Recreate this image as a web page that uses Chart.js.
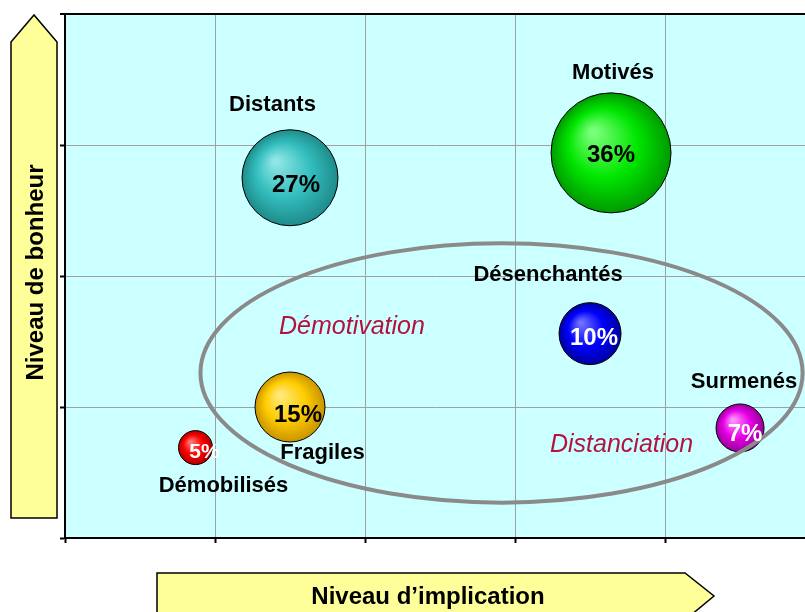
<!DOCTYPE html>
<html>
<head>
<meta charset="utf-8">
<script src="https://cdn.jsdelivr.net/npm/chart.js@4"></script>
<style>
  html, body { margin: 0; padding: 0; background: #ffffff; }
  #c { display: block; }
</style>
</head>
<body>
<canvas id="c" width="805" height="612"></canvas>
<script>
// ---- Data ----
const segments   = ["Démobilisés", "Fragiles", "Distants", "Motivés", "Désenchantés", "Surmenés"];
const implication = [0.87, 1.5, 1.5, 3.64, 3.5, 4.5];     // x
const bonheur     = [0.69, 1.0, 2.75, 2.94, 1.56, 0.84];  // y
const bubbleSize  = [17, 35, 48, 60, 31, 24];             // bubble radius
const shares      = ["5%", "15%", "27%", "36%", "10%", "7%"];
const zoneLabels  = ["Démotivation", "Distanciation"];
const xTitle = "Niveau d’implication";
const yTitle = "Niveau de bonheur";

// ---- Styles / layout ----
const bubbleColors = [
  ["#ff7a7a", "#ff0000", "#b00000"],
  ["#ffe97a", "#ffcc00", "#c89400"],
  ["#8fe6e6", "#33bdbd", "#1f8b8b"],
  ["#7aff7a", "#00e600", "#009a00"],
  ["#7070ff", "#0000ff", "#0000a0"],
  ["#ff90ff", "#e600e6", "#990099"]
];
const shareColors = ["#ffffff", "#000000", "#000000", "#000000", "#ffffff", "#ffffff"];
const shareFont   = [21, 24, 24, 24, 24, 24];
const shareOffset = [[9, 10.5], [8, 15], [6, 14], [0, 9], [4, 11.5], [5, 13]];
const nameOffset  = [[28, 44], [32.5, 52], [-17.5, -67], [2, -74], [-42, -53], [4, -40]];
const zonePos     = [[1.913, 1.555], [3.71, 0.66]];
const ellipseSpec = { cx: 2.91, cy: 1.26, rx: 2.007, ry: 0.99 };

const points = implication.map((x, i) => ({ x: x, y: bonheur[i], r: bubbleSize[i] }));

const bgPlugin = {
  id: 'bg',
  beforeDraw(chart) {
    const { ctx, chartArea: a } = chart;
    ctx.save();
    ctx.fillStyle = '#ccffff';
    ctx.fillRect(a.left, a.top, a.right - a.left, a.bottom - a.top);
    ctx.restore();
  }
};

const overlayPlugin = {
  id: 'overlay',
  afterDatasetsDraw(chart) {
    const { ctx } = chart;
    const xs = chart.scales.x, ys = chart.scales.y;
    // ellipse
    const ecx = xs.getPixelForValue(ellipseSpec.cx), ecy = ys.getPixelForValue(ellipseSpec.cy);
    const erx = xs.getPixelForValue(ellipseSpec.cx + ellipseSpec.rx) - ecx;
    const ery = ecy - ys.getPixelForValue(ellipseSpec.cy + ellipseSpec.ry);
    ctx.save();
    ctx.beginPath();
    ctx.ellipse(ecx, ecy, erx, ery, 0, 0, Math.PI * 2);
    ctx.lineWidth = 4;
    ctx.strokeStyle = '#8a8a8a';
    ctx.stroke();
    ctx.restore();

    ctx.save();
    ctx.textAlign = 'center';
    ctx.textBaseline = 'alphabetic';
    points.forEach((p, i) => {
      const px = xs.getPixelForValue(p.x), py = ys.getPixelForValue(p.y);
      ctx.font = 'bold 22px "Liberation Sans", Arial, sans-serif';
      ctx.fillStyle = '#000000';
      ctx.fillText(segments[i], px + nameOffset[i][0], py + nameOffset[i][1]);
      ctx.font = 'bold ' + shareFont[i] + 'px "Liberation Sans", Arial, sans-serif';
      ctx.fillStyle = shareColors[i];
      ctx.fillText(shares[i], px + shareOffset[i][0], py + shareOffset[i][1]);
    });
    ctx.font = 'italic 25px "Liberation Sans", Arial, sans-serif';
    ctx.fillStyle = '#b3123f';
    zoneLabels.forEach((t, i) => {
      ctx.fillText(t, xs.getPixelForValue(zonePos[i][0]), ys.getPixelForValue(zonePos[i][1]));
    });
    ctx.restore();
  },
  afterDraw(chart) {
    const { ctx } = chart;
    ctx.save();
    ctx.fillStyle = '#ffff99';
    ctx.strokeStyle = '#000000';
    ctx.lineWidth = 1.5;
    ctx.lineJoin = 'miter';
    // vertical arrow
    ctx.beginPath();
    ctx.moveTo(11, 518); ctx.lineTo(11, 42); ctx.lineTo(34, 15); ctx.lineTo(57, 42); ctx.lineTo(57, 518);
    ctx.closePath(); ctx.fill(); ctx.stroke();
    // horizontal arrow
    ctx.beginPath();
    ctx.moveTo(157, 620); ctx.lineTo(157, 573); ctx.lineTo(685, 573); ctx.lineTo(714, 596); ctx.lineTo(685, 620);
    ctx.closePath(); ctx.fill(); ctx.stroke();
    ctx.fillStyle = '#000000';
    ctx.font = 'bold 24px "Liberation Sans", Arial, sans-serif';
    ctx.textAlign = 'center';
    ctx.textBaseline = 'alphabetic';
    ctx.fillText(xTitle, 428, 604);
    ctx.translate(43, 272.5);
    ctx.rotate(-Math.PI / 2);
    ctx.fillText(yTitle, 0, 0);
    ctx.restore();
  }
};

new Chart(document.getElementById('c'), {
  type: 'bubble',
  data: {
    datasets: [{
      data: points,
      borderColor: '#000000',
      borderWidth: 1,
      hoverBorderWidth: 1,
      clip: false,
      backgroundColor: (c) => {
        const chart = c.chart;
        const i = c.dataIndex;
        if (c.type !== 'data' || !chart.chartArea || !chart.scales.x) return bubbleColors[i % 6][1];
        const p = c.raw;
        const cx = chart.scales.x.getPixelForValue(p.x), cy = chart.scales.y.getPixelForValue(p.y), r = p.r;
        const g = chart.ctx.createRadialGradient(cx - r * 0.3, cy - r * 0.35, r * 0.05, cx, cy, r);
        g.addColorStop(0, bubbleColors[i][0]);
        g.addColorStop(0.55, bubbleColors[i][1]);
        g.addColorStop(1, bubbleColors[i][2]);
        return g;
      }
    }]
  },
  options: {
    responsive: false,
    animation: false,
    devicePixelRatio: 1,
    layout: { autoPadding: false, padding: { left: 60, top: 14, right: 0, bottom: 69 } },
    plugins: { legend: { display: false }, tooltip: { enabled: false } },
    scales: {
      x: {
        type: 'linear', min: 0, max: 4.933,
        ticks: { display: false, stepSize: 1, includeBounds: false },
        grid: { color: '#a0a0a0', lineWidth: 1, drawTicks: true, tickLength: 5, tickColor: '#000000', tickWidth: 2 },
        border: { color: '#000000', width: 2 }
      },
      y: {
        type: 'linear', min: 0, max: 4,
        ticks: { display: false, stepSize: 1 },
        grid: {
          color: (c) => (c.tick && c.tick.value === 4) ? '#000000' : '#a0a0a0',
          lineWidth: (c) => (c.tick && c.tick.value === 4) ? 2 : 1,
          drawTicks: true, tickLength: 5, tickColor: '#000000', tickWidth: 2
        },
        border: { color: '#000000', width: 2 }
      }
    }
  },
  plugins: [bgPlugin, overlayPlugin]
});
</script>
</body>
</html>
